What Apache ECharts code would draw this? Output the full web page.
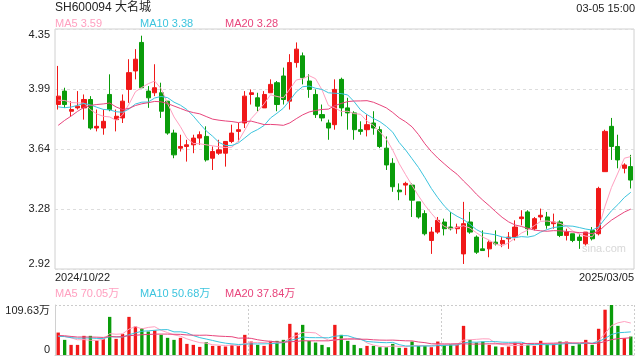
<!DOCTYPE html>
<html>
<head>
<meta charset="utf-8">
<script src="https://cdn.jsdelivr.net/npm/echarts@6/dist/echarts.min.js"></script>
<style>html,body{margin:0;padding:0;background:#fff;}#c{width:640px;height:360px;}</style>
</head>
<body>
<div id="c"></div>
<script>
var stockName = 'SH600094 大名城';
var timeStamp = '03-05 15:00';
var watermark = 'sina.com';
var dates = [
'2024/10/22','2024/10/23','2024/10/24','2024/10/25','2024/10/28','2024/10/29','2024/10/30','2024/10/31',
'2024/11/01','2024/11/04','2024/11/05','2024/11/06','2024/11/07','2024/11/08','2024/11/11','2024/11/12','2024/11/13','2024/11/14','2024/11/15','2024/11/18','2024/11/19','2024/11/20','2024/11/21','2024/11/22','2024/11/25','2024/11/26','2024/11/27','2024/11/28','2024/11/29',
'2024/12/02','2024/12/03','2024/12/04','2024/12/05','2024/12/06','2024/12/09','2024/12/10','2024/12/11','2024/12/12','2024/12/13','2024/12/16','2024/12/17','2024/12/18','2024/12/19','2024/12/20','2024/12/23','2024/12/24','2024/12/25','2024/12/26','2024/12/27','2024/12/30','2024/12/31',
'2025/01/02','2025/01/03','2025/01/06','2025/01/07','2025/01/08','2025/01/09','2025/01/10','2025/01/13','2025/01/14','2025/01/15','2025/01/16','2025/01/17','2025/01/20','2025/01/21','2025/01/22','2025/01/23','2025/01/24','2025/01/27',
'2025/02/05','2025/02/06','2025/02/07','2025/02/10','2025/02/11','2025/02/12','2025/02/13','2025/02/14','2025/02/17','2025/02/18','2025/02/19','2025/02/20','2025/02/21','2025/02/24','2025/02/25','2025/02/26','2025/02/27','2025/02/28',
'2025/03/03','2025/03/04','2025/03/05'];

var opens = [3.90,3.98,3.86,3.88,3.88,3.93,3.76,3.76,3.96,3.81,
3.82,3.99,4.10,4.27,3.98,3.97,3.97,3.92,3.73,3.64,
3.65,3.66,3.70,3.71,3.58,3.61,3.61,3.68,3.74,3.79,
3.96,3.94,3.88,3.97,4.03,4.07,3.92,4.15,4.19,4.04,
3.96,3.84,3.79,3.78,4.05,3.88,3.85,3.75,3.75,3.79,
3.75,3.64,3.55,3.39,3.42,3.42,3.32,3.25,3.09,3.14,
3.20,3.17,3.16,3.01,3.20,3.11,3.04,3.04,3.08,3.07,
3.10,3.11,3.22,3.26,3.16,3.23,3.23,3.19,3.20,3.12,
3.13,3.11,3.07,3.15,3.13,3.50,3.77,3.65,3.52,3.53];
var closes = [3.95,3.90,3.87,3.89,3.93,3.76,3.77,3.80,3.87,3.83,
3.92,4.09,4.17,4.00,3.94,4.00,3.86,3.73,3.60,3.65,
3.66,3.70,3.72,3.57,3.62,3.63,3.68,3.73,3.75,3.95,
3.97,3.89,3.96,4.02,3.90,3.93,4.15,4.23,4.06,3.99,
3.84,3.82,3.76,3.99,3.88,3.85,3.75,3.74,3.78,3.76,
3.65,3.54,3.41,3.38,3.43,3.33,3.23,3.13,3.14,3.21,
3.16,3.16,3.17,3.19,3.14,3.02,3.03,3.08,3.07,3.09,
3.11,3.17,3.23,3.16,3.22,3.24,3.18,3.20,3.12,3.14,
3.09,3.09,3.14,3.10,3.40,3.74,3.65,3.57,3.54,3.45];
var lows = [3.87,3.88,3.83,3.87,3.81,3.75,3.74,3.72,3.86,3.74,
3.79,3.91,4.05,4.00,3.88,3.95,3.82,3.72,3.58,3.62,
3.56,3.61,3.66,3.56,3.51,3.60,3.53,3.67,3.68,3.76,
3.90,3.86,3.88,3.97,3.86,3.90,3.87,4.12,4.02,3.94,
3.82,3.80,3.69,3.75,3.83,3.75,3.69,3.72,3.71,3.72,
3.64,3.51,3.38,3.33,3.36,3.23,3.22,3.12,3.01,3.13,
3.12,3.15,3.13,2.95,3.13,3.01,3.03,2.99,3.06,3.05,
3.04,3.09,3.18,3.12,3.15,3.21,3.16,3.16,3.11,3.09,
3.08,3.04,3.06,3.09,3.12,3.50,3.57,3.52,3.49,3.40];
var highs = [4.13,4.00,3.92,3.98,3.96,3.95,3.87,3.87,4.08,3.87,
3.96,4.17,4.23,4.31,4.01,4.14,4.03,3.92,3.75,3.72,
3.69,3.72,3.74,3.77,3.65,3.69,3.68,3.78,3.79,3.98,
3.99,3.97,3.98,4.05,4.04,4.12,4.20,4.27,4.21,4.08,
3.99,3.90,3.81,4.05,4.06,3.94,3.86,3.80,3.84,3.86,
3.77,3.71,3.58,3.43,3.44,3.43,3.32,3.27,3.17,3.23,
3.22,3.26,3.19,3.32,3.26,3.12,3.15,3.09,3.15,3.11,
3.14,3.21,3.27,3.27,3.23,3.28,3.26,3.25,3.21,3.16,
3.13,3.13,3.14,3.17,3.41,3.75,3.82,3.72,3.55,3.60];
// closes of the 19 sessions before the window (for the moving averages)
var prevCloses = [3.31,3.36,3.33,3.45,3.52,3.67,3.73,3.76,4.30,4.23,3.95,3.83,3.79,3.81,3.85,3.91,3.93,3.90,3.94];

// volume in 万 (10k shares)
var volumes = [49.2,33.2,22.2,22.2,42.0,42.0,31.7,34.7,83.6,35.4,
46.3,83.6,62.4,58.8,51.5,53.7,44.2,37.6,33.2,37.6,
24.4,22.2,17.8,28.1,20.0,20.0,18.6,22.2,20.0,44.2,
29.5,22.2,20.0,31.0,31.0,33.2,68.3,49.2,66.1,31.0,
27.3,22.2,17.1,66.1,44.2,31.0,22.2,14.9,20.0,20.0,
17.1,17.1,24.4,15.7,15.7,29.5,20.0,20.0,17.1,29.5,
22.2,23.7,23.7,63.9,33.2,27.3,29.5,22.2,18.6,17.1,
18.6,27.3,23.7,22.2,20.0,31.1,23.7,24.4,29.5,29.5,
20.0,23.7,33.2,22.2,57.5,99.3,109.63,63.9,36.9,40.5];
var prevVolumes = [45,52,48,40,44,38,46,42,50,41,39,44,36,38,42,40,38,43,40];

var priceTicks = [2.92, 3.28, 3.64, 3.99, 4.35];

var UP = '#f01818', DOWN = '#0a9c0a';
var C5 = '#ffa0c0', C10 = '#3cc4de', C20 = '#e8457c';
var FONT = '"Liberation Sans","Noto Sans CJK SC",sans-serif';

function movingAvg(prev, arr, n) {
  var all = prev.concat(arr), off = prev.length, out = [];
  for (var i = 0; i < arr.length; i++) {
    var s = 0;
    for (var k = off + i - n + 1; k <= off + i; k++) s += all[k];
    out.push(+(s / n).toFixed(4));
  }
  return out;
}
var ma5 = movingAvg(prevCloses, closes, 5), ma10 = movingAvg(prevCloses, closes, 10), ma20 = movingAvg(prevCloses, closes, 20);
var vma5 = movingAvg(prevVolumes, volumes, 5), vma10 = movingAvg(prevVolumes, volumes, 10), vma20 = movingAvg(prevVolumes, volumes, 20);
var N = closes.length;

var kData = [];
for (var i = 0; i < N; i++) kData.push([opens[i], closes[i], lows[i], highs[i]]);
var volData = [];
for (var j = 0; j < N; j++) volData.push({value: volumes[j], itemStyle: {color: closes[j] >= opens[j] ? UP : DOWN}});

var pMin = priceTicks[0], pMax = priceTicks[priceTicks.length - 1];
var pInterval = (pMax - pMin) / (priceTicks.length - 1);
var vMax = Math.max.apply(null, volumes);

function priceLabel(v) {
  var idx = Math.round((v - pMin) / pInterval);
  return priceTicks[idx] !== undefined ? priceTicks[idx].toFixed(2) : v.toFixed(2);
}

function txt(x, y, s, color, size, align) {
  return {type: 'text', x: x, y: y, silent: true, style: {text: s, fill: color, font: size + 'px ' + FONT, align: align || 'left', verticalAlign: 'middle'}};
}

var chart = echarts.init(document.getElementById('c'), null, {renderer: 'canvas'});
chart.setOption({
  animation: false,
  backgroundColor: '#fff',
  grid: [
    {left: 55, right: 6, top: 29, height: 240, show: true, borderColor: '#d0d0d0', borderWidth: 1, backgroundColor: 'transparent'},
    {left: 55, right: 6, top: 305, height: 50}
  ],
  xAxis: [
    {type: 'category', gridIndex: 0, data: dates, boundaryGap: true, axisLine: {show: false}, axisTick: {show: false}, axisLabel: {show: false}, splitLine: {show: false}},
    {type: 'value', gridIndex: 0, min: 0, max: 1, interval: 1, position: 'bottom', axisLine: {show: false}, axisTick: {show: false}, splitLine: {show: false},
      axisLabel: {margin: 3, fontSize: 11, color: '#222', fontFamily: FONT, alignMinLabel: 'left', alignMaxLabel: 'right',
        formatter: function (v) { return v === 0 ? dates[0] : dates[dates.length - 1]; }}},
    {type: 'category', gridIndex: 1, data: dates, boundaryGap: true, axisLine: {show: true, lineStyle: {color: '#d0d0d0'}}, axisTick: {show: false}, axisLabel: {show: false}, splitLine: {show: false}},
    {type: 'value', gridIndex: 1, min: 0, max: 3, interval: 1, axisLine: {show: false}, axisTick: {show: false}, axisLabel: {show: false},
      splitLine: {show: true, lineStyle: {color: '#cccccc', type: [2, 2], width: 1}}}
  ],
  yAxis: [
    {type: 'value', gridIndex: 0, min: pMin, max: pMax, interval: pInterval, axisLine: {show: false}, axisTick: {show: false},
      axisLabel: {margin: 5, fontSize: 11, color: '#222', fontFamily: FONT, verticalAlignMinLabel: 'bottom', verticalAlignMaxLabel: 'top',
        formatter: priceLabel},
      splitLine: {show: true, lineStyle: {color: '#dddddd', type: [3, 3], width: 1}}},
    {type: 'value', gridIndex: 1, min: 0, max: vMax, interval: vMax, axisLine: {show: true, lineStyle: {color: '#d0d0d0'}}, axisTick: {show: false},
      axisLabel: {margin: 5, fontSize: 11, color: '#222', fontFamily: FONT, verticalAlignMinLabel: 'bottom', verticalAlignMaxLabel: 'top',
        formatter: function (v) { return v === 0 ? '0' : v.toFixed(2) + '万'; }},
      splitLine: {show: true, lineStyle: {color: '#cccccc', type: [2, 2], width: 1}}}
  ],
  series: [
    {type: 'candlestick', xAxisIndex: 0, yAxisIndex: 0, data: kData, barWidth: '72%',
      itemStyle: {color: UP, color0: DOWN, borderColor: UP, borderColor0: DOWN, borderWidth: 1}},
    {type: 'line', xAxisIndex: 0, yAxisIndex: 0, data: ma5, showSymbol: false, lineStyle: {color: C5, width: 1}},
    {type: 'line', xAxisIndex: 0, yAxisIndex: 0, data: ma10, showSymbol: false, lineStyle: {color: C10, width: 1}},
    {type: 'line', xAxisIndex: 0, yAxisIndex: 0, data: ma20, showSymbol: false, lineStyle: {color: C20, width: 1}},
    {type: 'bar', xAxisIndex: 2, yAxisIndex: 1, data: volData, barWidth: '52%'},
    {type: 'line', xAxisIndex: 2, yAxisIndex: 1, data: vma5, showSymbol: false, lineStyle: {color: C5, width: 1}},
    {type: 'line', xAxisIndex: 2, yAxisIndex: 1, data: vma10, showSymbol: false, lineStyle: {color: C10, width: 1}},
    {type: 'line', xAxisIndex: 2, yAxisIndex: 1, data: vma20, showSymbol: false, lineStyle: {color: C20, width: 1}}
  ],
  graphic: [
    txt(55, 8, stockName, '#222', 12),
    txt(635, 9, timeStamp, '#222', 11, 'right'),
    txt(55, 24, 'MA5 ' + ma5[N - 1].toFixed(2), C5, 11),
    txt(140, 24, 'MA10 ' + ma10[N - 1].toFixed(2), C10, 11),
    txt(225, 24, 'MA20 ' + ma20[N - 1].toFixed(2), C20, 11),
    txt(55, 294, 'MA5 ' + vma5[N - 1].toFixed(2) + '万', C5, 11),
    txt(140, 294, 'MA10 ' + vma10[N - 1].toFixed(2) + '万', C10, 11),
    txt(225, 294, 'MA20 ' + vma20[N - 1].toFixed(2) + '万', C20, 11),
    txt(582, 249, watermark, '#d8d8d8', 11)
  ]
});
</script>
</body>
</html>
